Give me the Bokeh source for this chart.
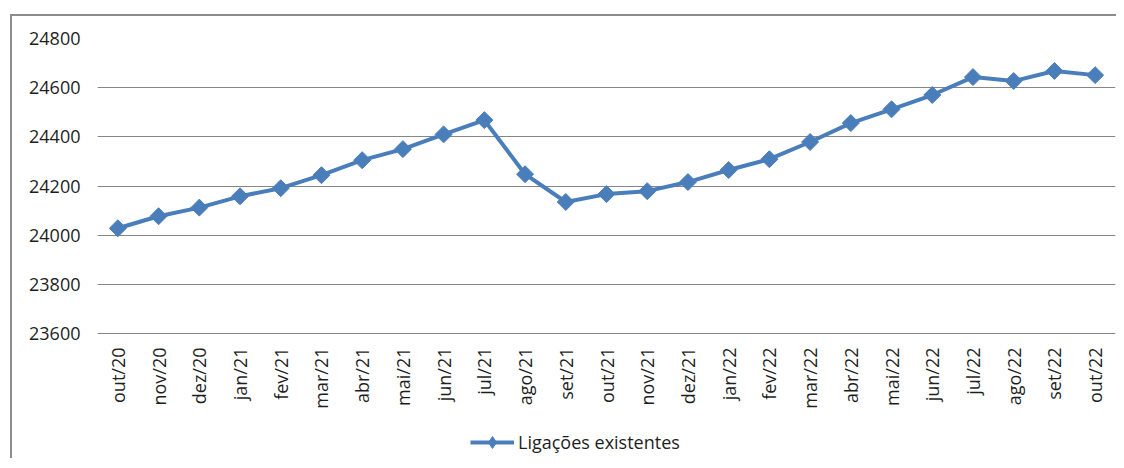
import math
from bokeh.plotting import figure
from bokeh.models import FactorRange, Range1d, FixedTicker, Legend, LegendItem, ColumnDataSource
from bokeh.core.properties import value
from bokeh.embed import file_html
from bokeh.resources import INLINE

months = ["out/20", "nov/20", "dez/20", "jan/21", "fev/21", "mar/21", "abr/21", "mai/21",
          "jun/21", "jul/21", "ago/21", "set/21", "out/21", "nov/21", "dez/21", "jan/22",
          "fev/22", "mar/22", "abr/22", "mai/22", "jun/22", "jul/22", "ago/22", "set/22", "out/22"]
ligacoes = [24028, 24077, 24112, 24158, 24191, 24244, 24305, 24350, 24410, 24468,
            24248, 24135, 24167, 24179, 24216, 24265, 24309, 24379, 24456, 24512,
            24570, 24643, 24627, 24668, 24651]
y_ticks = [23600, 23800, 24000, 24200, 24400, 24600, 24800]
series_name = "Ligações existentes"

FONT = "Open Sans"
BLUE = "#4A7EBB"
GRID = "#868686"
TEXT = "#1e1e1e"

# layout (pixels inside the canvas)
W, H = 1106, 444
FRAME_LEFT, FRAME_TOP, AXIS_Y = 85, 22, 317
y_min, y_max = y_ticks[0], y_ticks[-1]
units_per_px = (y_max - y_min) / (AXIS_Y - FRAME_TOP)
y_start = y_min - (H - AXIS_Y) * units_per_px   # frame continues below the value axis

p = figure(width=W, height=H, x_range=FactorRange(*months, range_padding=0),
           y_range=Range1d(y_start, y_max), output_backend="svg", toolbar_location=None,
           x_axis_location=None,
           min_border_left=FRAME_LEFT, min_border_right=3, min_border_top=FRAME_TOP,
           min_border_bottom=0,
           styles={"margin-left": "10px", "margin-top": "14px",
                   "border-left": "2px solid #8c8c8c", "border-top": "2px solid #8c8c8c"})
p.outline_line_color = None
p.background_fill_color = "white"
p.border_fill_color = "white"

line = p.line(x=months, y=ligacoes, line_color=BLUE, line_width=4)
pts = p.scatter(x=months, y=ligacoes, marker="square", angle=math.pi / 4, size=12,
                fill_color=BLUE, line_color=BLUE)
# diamond used only for the legend key (hidden in the plot area)
key = p.scatter(x=months, y=ligacoes, marker="diamond", size=12,
                fill_color=BLUE, line_color=BLUE, visible=False)

# category labels under the value axis (vertical, reading upwards)
lab_src = ColumnDataSource(dict(x=months, y=[y_min] * len(months), t=months))
p.text(x="x", y="y", text="t", source=lab_src, angle=math.pi / 2,
       text_align="right", text_baseline="middle", y_offset=14,
       text_font=value(FONT), text_font_size="18px", text_color=TEXT)

p.yaxis.ticker = FixedTicker(ticks=y_ticks)
p.yaxis.axis_line_color = None
p.yaxis.major_tick_line_color = None
p.yaxis.major_tick_out = 0
p.yaxis.minor_tick_line_color = None
p.yaxis.major_label_standoff = 17
p.yaxis.major_label_text_font = FONT
p.yaxis.major_label_text_font_size = "18px"
p.yaxis.major_label_text_color = TEXT

p.xgrid.grid_line_color = None
p.ygrid.grid_line_color = GRID
p.ygrid.grid_line_width = 1

legend = Legend(items=[LegendItem(label=series_name, renderers=[line, key])],
                location=(373, 3), orientation="horizontal",
                border_line_color=None, background_fill_alpha=0,
                inactive_fill_alpha=0,
                padding=0, spacing=0, margin=0, glyph_width=44, glyph_height=30,
                label_height=30, label_standoff=4,
                label_text_font=FONT, label_text_font_size="18px", label_text_color=TEXT)
p.add_layout(legend, "center")

open("out.html", "w").write(file_html(p, INLINE))
